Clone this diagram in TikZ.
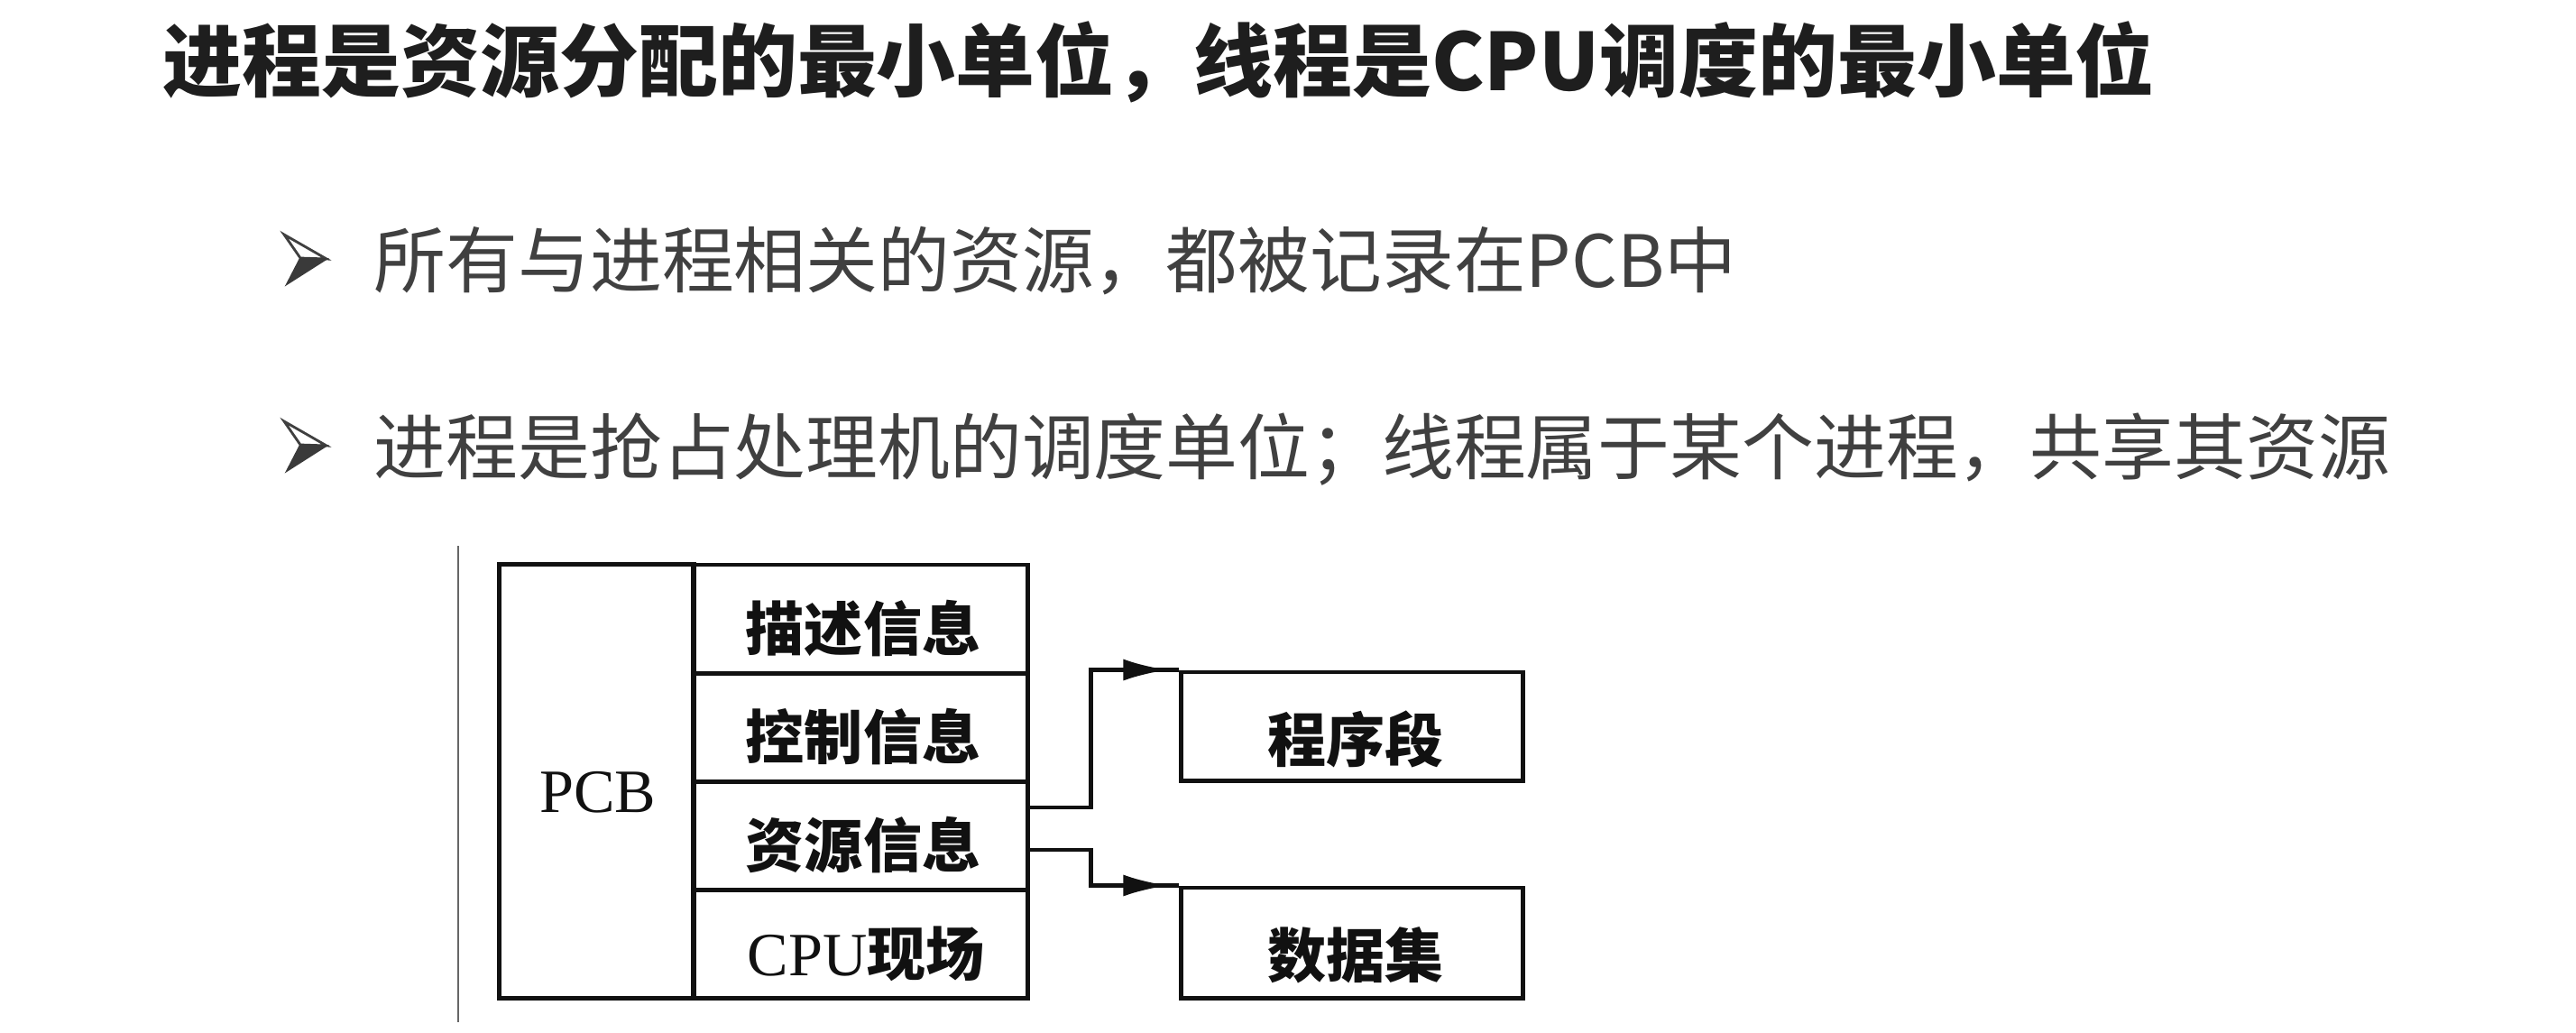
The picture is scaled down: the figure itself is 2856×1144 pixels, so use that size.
\documentclass[tikz,border=0pt]{standalone}
\usepackage{fontspec}
\setmainfont{Liberation Serif}
\newfontfamily\cjk{Noto Sans CJK SC}
\usetikzlibrary{arrows.meta}
\definecolor{titlecol}{HTML}{1E1E1E}
\definecolor{bulletcol}{HTML}{404040}
\definecolor{inkcol}{HTML}{111111}
\tikzset{
  titletext/.style={anchor=base west, inner sep=0pt, text=titlecol, font=\cjk\bfseries\fontsize{25pt}{30pt}\selectfont},
  bullettext/.style={anchor=base west, inner sep=0pt, text=bulletcol, font=\cjk\fontsize{22.7pt}{26pt}\selectfont},
  cell/.style={draw=inkcol, line width=1.4pt, inner sep=0pt, minimum width=3.70cm, minimum height=1.20cm},
  cjklabel/.style={anchor=base, inner sep=0pt, text=inkcol, font=\cjk\bfseries\fontsize{18.5pt}{22pt}\selectfont},
  latlabel/.style={anchor=base, inner sep=0pt, text=inkcol, font=\fontsize{19.4pt}{22pt}\selectfont},
  conn/.style={draw=inkcol, line width=1.4pt},
  tipline/.style={draw=inkcol, line width=1.4pt, -{Latex[length=5mm,width=2.4mm]}},
  bulletup/.style={draw=bulletcol, line width=0.8pt, fill=white, line join=miter},
  bulletlow/.style={fill=bulletcol!90!black, draw=bulletcol!90!black, line width=0.5pt}
}
\begin{document}
\begin{tikzpicture}[x=0.01cm, y=-0.01cm]
\useasboundingbox (0,0) rectangle (2856,1144);

% title
\node[titletext] (title) at (180,100) {进程是资源分配的最小单位，线程是CPU调度的最小单位};

% bullet markers
\foreach \dy in {0,207} {
  \begin{scope}[shift={(0,\dy)}]
    \draw[bulletup] (315,260) -- (362,287) -- (333,286) -- cycle;
    \filldraw[bulletlow] (333,286) -- (362,287) -- (318,315) -- cycle;
  \end{scope}
}
\node[bullettext] (b1) at (414,318) {所有与进程相关的资源，都被记录在PCB中};
\node[bullettext] (b2) at (414,525) {进程是抢占处理机的调度单位；线程属于某个进程，共享其资源};

% left margin rule of the scanned figure
\draw[draw=gray!80!black, line width=0.6pt] (508,605) -- (508,1133);

% PCB block
\node[cell, minimum width=2.15cm, minimum height=4.80cm] (pcb) at (661.5,866) {};
\node[cell] (desc) at (954,686) {};
\node[cell] (ctrl) at (954,806) {};
\node[cell] (res)  at (954,926) {};
\node[cell] (cpu)  at (954,1046) {};

\node[latlabel] (pcbt) at (663,900) {PCB};
\node[cjklabel] (desct) at (957,721) {描述信息};
\node[cjklabel] (ctrlt) at (957,841) {控制信息};
\node[cjklabel] (rest)  at (957,961) {资源信息};
\node[cjklabel] (cput)  at (960,1081) {{\rmfamily\mdseries\fontsize{19.4pt}{22pt}\selectfont CPU}现场};

% right boxes
\node[cell, minimum width=3.78cm] (prog) at (1499,805) {};
\node[cell, minimum width=3.78cm, minimum height=1.22cm] (data) at (1499,1045) {};
\node[cjklabel] (progt) at (1503,844) {程序段};
\node[cjklabel] (datat) at (1503,1083) {数据集};

% connectors
\draw[conn] ([yshift=0.31cm]res.east) -- ++(0.68cm,0) |- (prog.north west);
\draw[conn] ([yshift=-0.16cm]res.east) -- ++(0.68cm,0) |- (data.north west);
\draw[tipline] ([xshift=-0.70cm]prog.north west) -- ([xshift=-0.12cm]prog.north west);
\draw[tipline] ([xshift=-0.70cm]data.north west) -- ([xshift=-0.12cm]data.north west);
\end{tikzpicture}
\end{document}
